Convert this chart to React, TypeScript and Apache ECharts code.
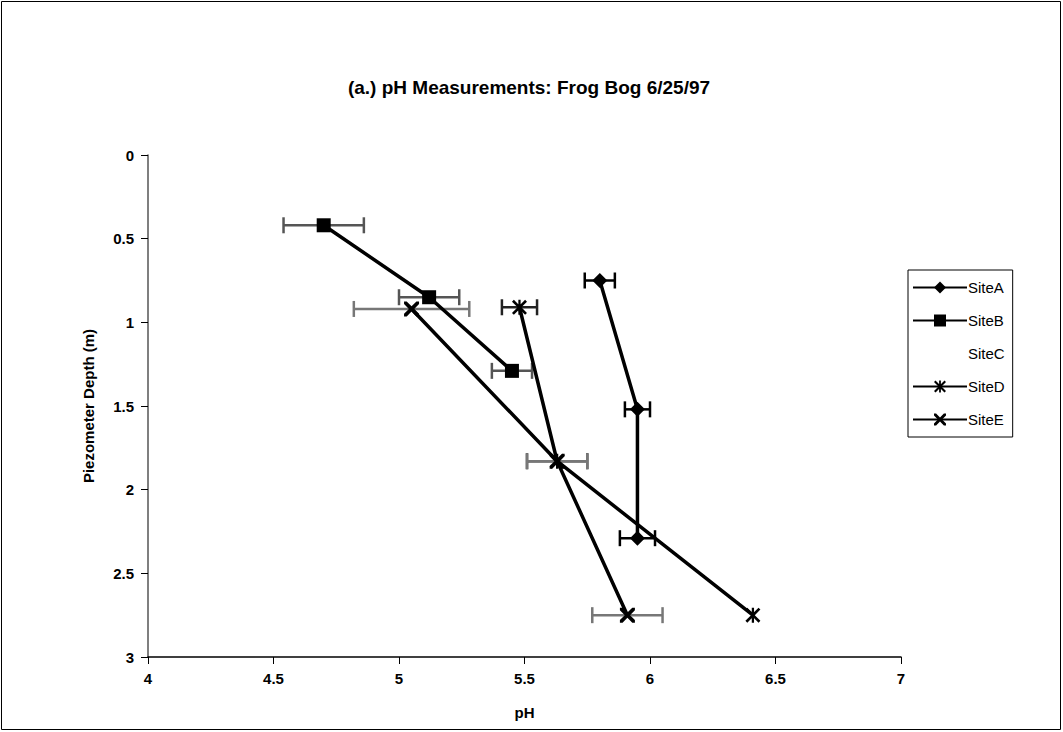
import React, { useEffect, useRef } from "react";
import * as echarts from "echarts";

// ---- data ----
const siteNames = ["SiteA", "SiteB", "SiteC", "SiteD", "SiteE"];

const siteA_pH = [5.8, 5.95, 5.95];
const siteA_depth = [0.75, 1.52, 2.29];
const siteA_err = [0.06, 0.05, 0.07];

const siteB_pH = [4.7, 5.12, 5.45];
const siteB_depth = [0.42, 0.85, 1.29];
const siteB_err = [0.16, 0.12, 0.08];

const siteD_pH = [5.48, 5.63, 6.41];
const siteD_depth = [0.91, 1.83, 2.75];
const siteD_err = [0.07, 0.12, 0];

const siteE_pH = [5.05, 5.63, 5.91];
const siteE_depth = [0.92, 1.83, 2.75];
const siteE_err = [0.23, 0.12, 0.14];

const xTicks = [4, 4.5, 5, 5.5, 6, 6.5, 7];
const yTicks = [0, 0.5, 1, 1.5, 2, 2.5, 3];

const FONT = "'Liberation Sans', Arial, sans-serif";

const X_PATH =
  "path://M0,0 L3.5,0 L10,6.5 L16.5,0 L20,0 L20,3.5 L13.5,10 L20,16.5 L20,20 L16.5,20 L10,13.5 L3.5,20 L0,20 L0,16.5 L6.5,10 L0,3.5 Z";
const STAR_PATH =
  "path://M0,2.5 L2.5,0 L10,7.5 L17.5,0 L20,2.5 L12.5,10 L20,17.5 L17.5,20 L10,12.5 L2.5,20 L0,17.5 L7.5,10 Z M8.5,0 L11.5,0 L11.5,20 L8.5,20 Z";

function pairs(xs: number[], ys: number[]) {
  return xs.map((x, i) => [x, ys[i]]);
}
function errData(xs: number[], ys: number[], es: number[]) {
  return xs.map((x, i) => [x, ys[i], es[i]]);
}

function errSeries(name: string, data: number[][], color: string) {
  return {
    name,
    type: "custom",
    z: 1,
    silent: true,
    encode: { x: 0, y: 1 },
    data,
    renderItem: (params: any, api: any) => {
      const x = api.value(0);
      const y = api.value(1);
      const e = api.value(2);
      if (!e) return null;
      const p1 = api.coord([x - e, y]);
      const p2 = api.coord([x + e, y]);
      const cap = 8;
      const st = { stroke: color, lineWidth: 2.5 };
      return {
        type: "group",
        children: [
          { type: "line", shape: { x1: p1[0], y1: p1[1], x2: p2[0], y2: p2[1] }, style: st },
          { type: "line", shape: { x1: p1[0], y1: p1[1] - cap, x2: p1[0], y2: p1[1] + cap }, style: st },
          { type: "line", shape: { x1: p2[0], y1: p2[1] - cap, x2: p2[0], y2: p2[1] + cap }, style: st },
        ],
      };
    },
  };
}

function lineSeries(name: string, data: number[][], symbol: string, size: number) {
  return {
    name,
    type: "line",
    z: 3,
    data,
    symbol,
    symbolSize: size,
    showAllSymbol: true,
    lineStyle: { color: "#000", width: 3.5 },
    itemStyle: { color: "#000" },
  };
}

export default function App() {
  const ref = useRef<HTMLDivElement>(null);
  useEffect(() => {
    document.body.style.margin = "0";
    const chart = echarts.init(ref.current!, null, { renderer: "svg" });
    const option = {
      animation: false,
      backgroundColor: "#fff",
      textStyle: { fontFamily: FONT },
      title: {
        text: "(a.) pH Measurements: Frog Bog 6/25/97",
        left: 524,
        top: 73,
        textAlign: "center",
        textStyle: { fontFamily: FONT, fontSize: 19, fontWeight: "bold", color: "#000" },
      },
      graphic: [
        {
          type: "rect",
          shape: { x: 1.5, y: 1.5, width: 1059, height: 728 },
          style: { fill: "none", stroke: "#000", lineWidth: 1 },
          silent: true,
        },
      ],
      legend: {
        orient: "vertical",
        left: 908,
        top: 270,
        data: siteNames,
        padding: [10, 8, 10, 4],
        itemGap: 18,
        itemWidth: 54,
        itemHeight: 15,
        borderColor: "#000",
        borderWidth: 1,
        selectedMode: false,
        textStyle: { fontFamily: FONT, fontSize: 15, color: "#000", padding: [0, 0, 0, -4] },
      },
      grid: { left: 148, right: 162, top: 155, bottom: 75, containLabel: false },
      xAxis: {
        type: "value",
        min: xTicks[0],
        max: xTicks[xTicks.length - 1],
        interval: 0.5,
        position: "bottom",
        name: "pH",
        nameLocation: "middle",
        nameGap: 48,
        nameTextStyle: { fontFamily: FONT, fontSize: 15, fontWeight: "bold", color: "#000" },
        axisLine: { onZero: false, lineStyle: { color: "#000", width: 1.5 } },
        axisTick: { show: true, inside: false, length: 7, lineStyle: { color: "#000" } },
        axisLabel: { fontFamily: FONT, fontSize: 15, fontWeight: "bold", color: "#000", margin: 14 },
        splitLine: { show: false },
      },
      yAxis: {
        type: "value",
        inverse: true,
        min: yTicks[0],
        max: yTicks[yTicks.length - 1],
        interval: 0.5,
        name: "Piezometer Depth (m)",
        nameLocation: "middle",
        nameGap: 52,
        nameRotate: 90,
        nameTextStyle: { fontFamily: FONT, fontSize: 15, fontWeight: "bold", color: "#000" },
        axisLine: { show: true, onZero: false, lineStyle: { color: "#555", width: 1.5 } },
        axisTick: { show: true, inside: false, length: 7, lineStyle: { color: "#000" } },
        axisLabel: { fontFamily: FONT, fontSize: 15, fontWeight: "bold", color: "#000", margin: 14 },
        splitLine: { show: false },
      },
      series: [
        errSeries("errA", errData(siteA_pH, siteA_depth, siteA_err), "#000"),
        errSeries("errB", errData(siteB_pH, siteB_depth, siteB_err), "#555"),
        errSeries("errD", errData(siteD_pH, siteD_depth, siteD_err), "#222"),
        errSeries("errE", errData(siteE_pH, siteE_depth, siteE_err), "#777"),
        lineSeries("SiteA", pairs(siteA_pH, siteA_depth), "diamond", 15),
        lineSeries("SiteB", pairs(siteB_pH, siteB_depth), "rect", 14),
        {
          name: "SiteC",
          type: "line",
          data: [],
          symbol: "none",
          lineStyle: { color: "rgba(0,0,0,0)", width: 0 },
          itemStyle: { color: "rgba(0,0,0,0)" },
        },
        lineSeries("SiteD", pairs(siteD_pH, siteD_depth), STAR_PATH, 15),
        lineSeries("SiteE", pairs(siteE_pH, siteE_depth), X_PATH, 15),
      ],
    };
    chart.setOption(option as any);
    return () => chart.dispose();
  }, []);
  return <div ref={ref} style={{ width: 1063, height: 732 }} />;
}
